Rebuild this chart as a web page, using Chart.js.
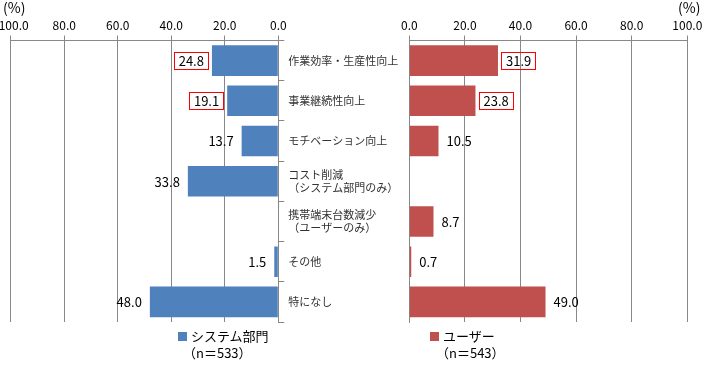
<!DOCTYPE html>
<html><head><meta charset="utf-8">
<script src="https://cdn.jsdelivr.net/npm/chart.js@4"></script>
<style>
html,body{margin:0;padding:0;background:#fff;}
#wrap{position:relative;width:704px;height:366px;overflow:hidden;font-family:"Noto Sans CJK JP",sans-serif;}
#cL{position:absolute;left:0;top:0;width:410px;height:366px;}
#cR{position:absolute;left:395px;top:0;width:309px;height:366px;}
.t{position:absolute;white-space:nowrap;color:#000;font-size:13px;line-height:16px;}
.sw{position:absolute;width:9px;height:9px;}
</style></head><body>
<div id="wrap">
<canvas id="cL" width="410" height="366"></canvas>
<canvas id="cR" width="309" height="366"></canvas>
<div class="t" style="left:3px;top:-1px;font-size:14px">(%)</div>
<div class="t" style="left:678px;top:-1px;font-size:14px">(%)</div>
<div class="sw" style="left:178px;top:332px;background:#4F81BD"></div>
<div class="t" style="left:191px;top:328px">システム部門</div>
<div class="t" style="left:183px;top:345px">（n＝533）</div>
<div class="sw" style="left:430px;top:332px;background:#C0504D"></div>
<div class="t" style="left:443px;top:328px">ユーザー</div>
<div class="t" style="left:436px;top:345px">（n＝543）</div>
</div>
<script>
const categories = [
  '作業効率・生産性向上',
  '事業継続性向上',
  'モチベーション向上',
  ['コスト削減', '（システム部門のみ）'],
  ['携帯端末台数減少', '（ユーザーのみ）'],
  'その他',
  '特になし'
];
const systemDept = [24.8, 19.1, 13.7, 33.8, null, 1.5, 48.0];
const users = [31.9, 23.8, 10.5, null, 8.7, 0.7, 49.0];
const axisTicks = [0, 20, 40, 60, 80, 100];

const FONT = '"Noto Sans CJK JP", sans-serif';
const GRID = '#888888';

const valueLabels = {
  id: 'valueLabels',
  afterDatasetsDraw(chart, args, opts) {
    const ctx = chart.ctx;
    const meta = chart.getDatasetMeta(0);
    const data = chart.data.datasets[0].data;
    ctx.save();
    ctx.font = '13px ' + FONT;
    ctx.textBaseline = 'middle';
    ctx.textAlign = 'left';
    meta.data.forEach((bar, i) => {
      const v = data[i];
      if (v === null || v === undefined) return;
      const txt = v.toFixed(1);
      const w = ctx.measureText(txt).width;
      const tx = opts.side < 0 ? bar.x - 8 - w : bar.x + 8;
      ctx.fillStyle = '#000';
      ctx.fillText(txt, tx, bar.y + 0.5);
      if (opts.boxed.includes(i)) {
        ctx.strokeStyle = '#FF0000';
        ctx.lineWidth = 1;
        ctx.strokeRect(Math.round(tx - 4.5) + 0.5, Math.round(bar.y - 8.5) + 0.5, Math.round(w + 9), 17);
      }
    });
    ctx.restore();
  }
};

function xAxis(reverse) {
  return {
    position: 'top', reverse: reverse, min: 0, max: 100,
    afterBuildTicks(s) { s.ticks = axisTicks.map(v => ({value: v})); },
    ticks: {
      autoSkip: false, maxRotation: 0, padding: 3, color: '#000',
      font: {size: 12, family: FONT},
      callback: v => (reverse && v === 100 ? '\u2002' : '') + Number(v).toFixed(1)
    },
    grid: {color: GRID, tickColor: GRID, tickLength: 5},
    border: {color: GRID},
    afterFit(s) { s.height = 40.5; s.paddingLeft = 0; s.paddingRight = 0; }
  };
}

new Chart(document.getElementById('cL'), {
  type: 'bar',
  data: {labels: categories, datasets: [{data: systemDept, backgroundColor: '#4F81BD', barPercentage: 0.76, categoryPercentage: 1}]},
  options: {
    indexAxis: 'y', responsive: false, animation: false,
    layout: {padding: {left: 10.7, right: 0, top: 0, bottom: 44}},
    plugins: {legend: {display: false}, tooltip: {enabled: false}, valueLabels: {side: -1, boxed: [0, 1]}},
    scales: {
      x: xAxis(true),
      y: {
        position: 'right',
        ticks: {autoSkip: false, padding: 4, color: '#333', font: {size: 11, family: FONT}},
        grid: {offset: true, drawOnChartArea: false, tickLength: 6, color: GRID},
        border: {color: GRID},
        afterFit(s) { s.width = 131.7; s.paddingTop = 0; s.paddingBottom = 0; }
      }
    }
  },
  plugins: [valueLabels]
});

new Chart(document.getElementById('cR'), {
  type: 'bar',
  data: {labels: categories, datasets: [{data: users, backgroundColor: '#C0504D', barPercentage: 0.76, categoryPercentage: 1}]},
  options: {
    indexAxis: 'y', responsive: false, animation: false,
    layout: {padding: {left: 14.3, right: 16.7, top: 0, bottom: 44}},
    plugins: {legend: {display: false}, tooltip: {enabled: false}, valueLabels: {side: 1, boxed: [0, 1]}},
    scales: {
      x: xAxis(false),
      y: {
        position: 'left',
        ticks: {display: false},
        grid: {display: false},
        border: {display: true, color: GRID},
        afterFit(s) { s.width = 0; s.paddingTop = 0; s.paddingBottom = 0; }
      }
    }
  },
  plugins: [valueLabels]
});
</script>
</body></html>
